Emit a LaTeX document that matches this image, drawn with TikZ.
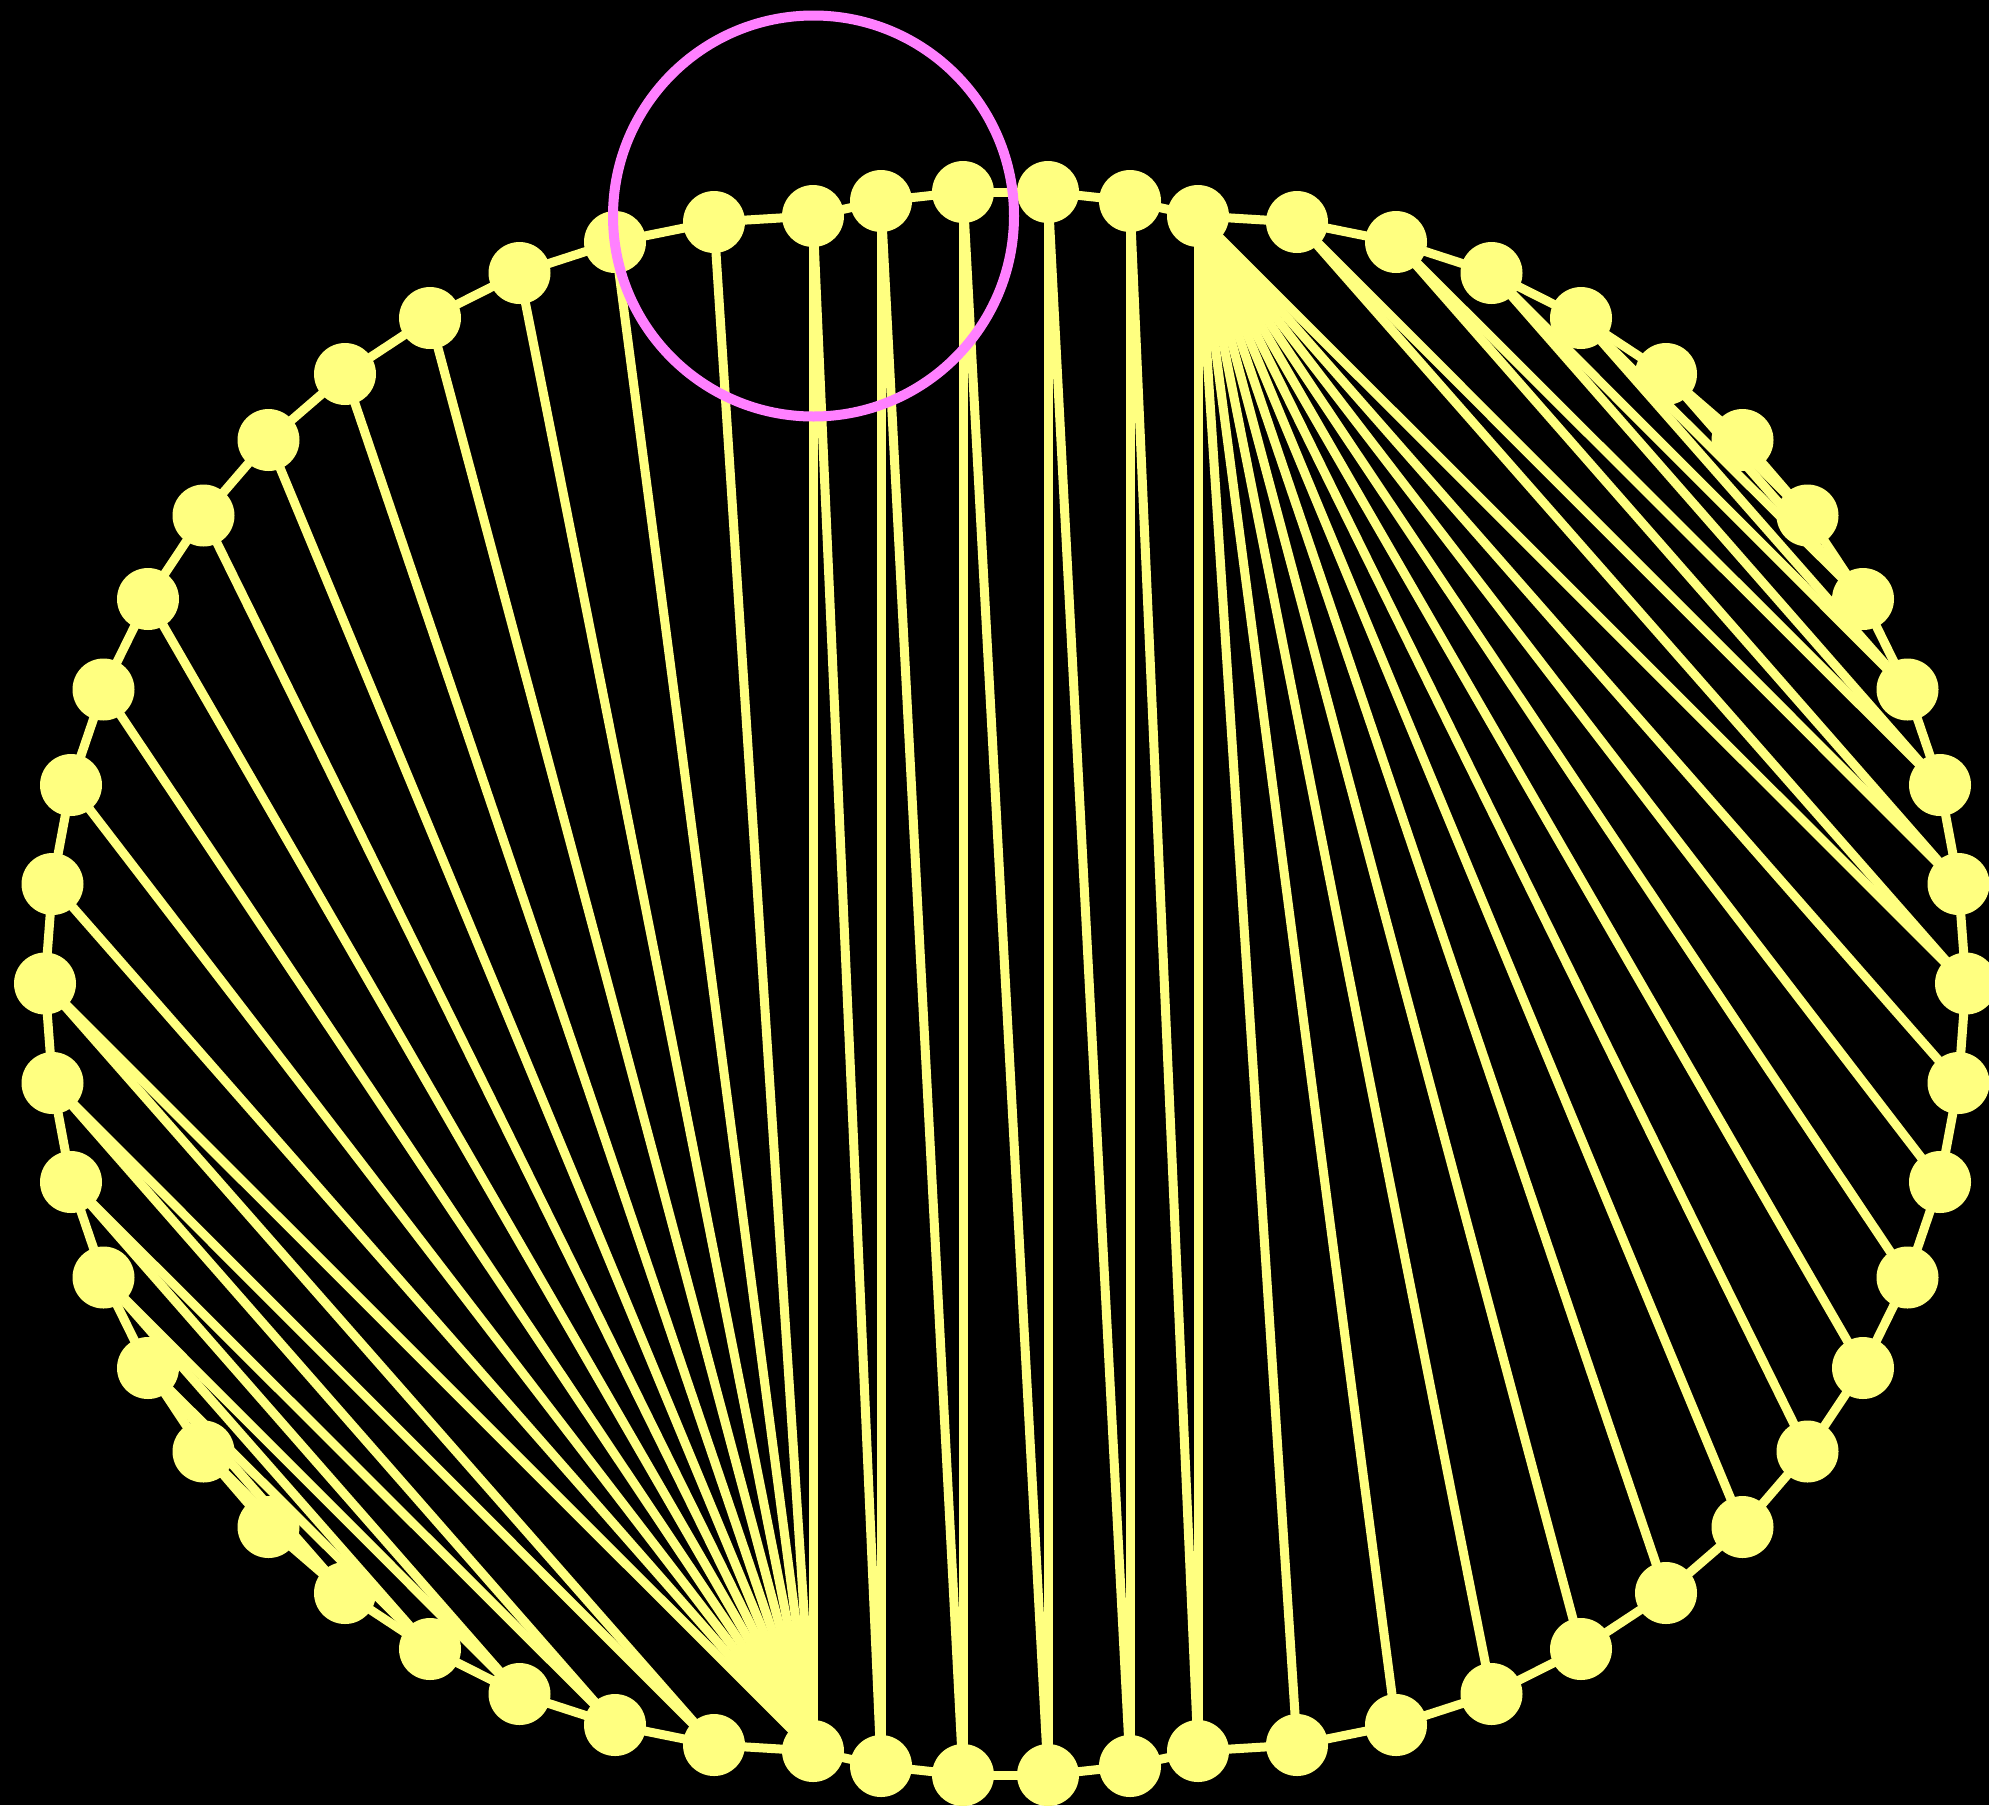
\documentclass[tikz,border=0pt]{standalone}
\usetikzlibrary{backgrounds}
\definecolor{nodeyellow}{HTML}{FFFF80}
\definecolor{hilite}{HTML}{FF80FF}
\pgfdeclarelayer{edgelayer}
\pgfdeclarelayer{toplayer}
\pgfsetlayers{background,edgelayer,main,toplayer}
\tikzset{
  dot/.style={circle, fill=nodeyellow, draw=none, inner sep=0pt, minimum size=62pt},
  link/.style={draw=nodeyellow, line width=9pt},
  ring/.style={circle, draw=hilite, line width=10pt, inner sep=0pt, minimum size=401pt}
}
\begin{document}
\begin{tikzpicture}[x=1pt,y=-1pt]
\begin{pgfonlayer}{background}
\fill[black] (0,0) rectangle (1989,1805);
\end{pgfonlayer}
\path[use as bounding box] (0,0) rectangle (1989,1805);
\clip (0,0) rectangle (1989,1805);
% nodes in ring order
\foreach \i/\x/\y in {
0/615/242, 1/714/222, 2/813/216, 3/881/201, 4/963/192,
5/1048/192, 6/1130/201, 7/1198/216, 8/1297/222, 9/1396/242,
10/1491.5/273, 11/1581/318, 12/1666/374, 13/1742.5/440, 14/1807.5/515.5,
15/1863/599, 16/1907.5/689.5, 17/1940/785, 18/1958.5/884, 19/1966/983.5,
20/1958.5/1083, 21/1940/1182, 22/1907.5/1277.5, 23/1863/1368, 24/1807.5/1451.5,
25/1742.5/1527, 26/1666/1593, 27/1581/1649, 28/1491.5/1694,
29/1396/1725, 30/1297/1745, 31/1198/1751, 32/1130/1766, 33/1048/1775,
34/963/1775, 35/881/1766, 36/813/1751, 37/714/1745, 38/615/1725,
39/519.5/1694, 40/430/1649, 41/345/1593, 42/268.5/1527, 43/203.5/1451.5,
44/148/1368, 45/103.5/1277.5, 46/71/1182, 47/52.5/1083, 48/45/983.5,
49/52.5/884, 50/71/785, 51/103.5/689.5, 52/148/599, 53/203.5/515.5,
54/268.5/440, 55/345/374, 56/430/318, 57/519.5/273}
  \node[dot] (n\i) at (\x,\y) {};
\begin{pgfonlayer}{edgelayer}
% ring
\foreach \i [evaluate=\i as \j using {int(mod(\i+1,58))}] in {0,...,57}
  \draw[link] (n\i.center) -- (n\j.center);
% chords
\foreach \a/\b in {
36/2, 2/35, 35/3, 3/34, 34/4, 4/33, 33/5, 5/32, 32/6, 6/31, 31/7,
36/1, 36/0, 36/57, 36/56, 36/55, 36/54, 36/53, 36/52, 36/51, 36/50, 36/49, 36/48,
48/37, 37/47, 47/38, 38/46, 46/39, 39/45, 45/40, 40/44, 44/41, 41/43,
7/30, 7/29, 7/28, 7/27, 7/26, 7/25, 7/24, 7/23, 7/22, 7/21, 7/20, 7/19,
19/8, 8/18, 18/9, 9/17, 17/10, 10/16, 16/11, 11/15, 15/12, 12/14}
  \draw[link] (n\a.center) -- (n\b.center);
\end{pgfonlayer}
\begin{pgfonlayer}{toplayer}
\node[ring] (hl) at (813.5,216) {};
\end{pgfonlayer}
\end{tikzpicture}
\end{document}
